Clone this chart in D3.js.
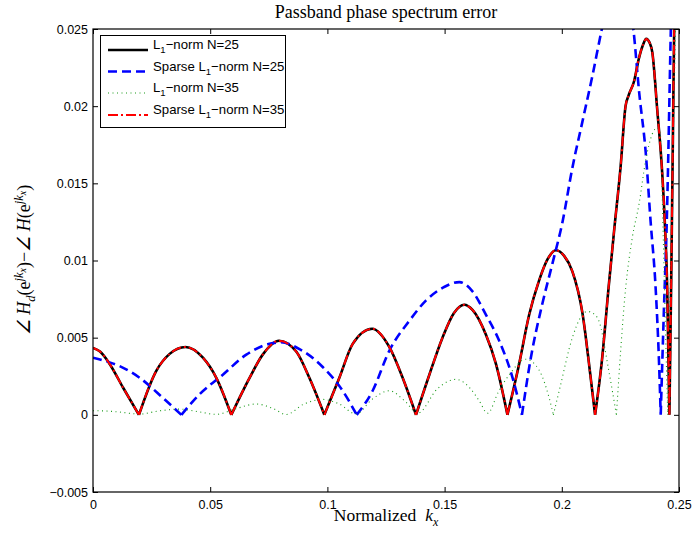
<!DOCTYPE html>
<html>
<head>
<meta charset="utf-8">
<script src="https://cdn.jsdelivr.net/npm/d3@7/dist/d3.min.js"></script>
<style>
  html, body { margin: 0; padding: 0; background: #fff; }
  svg { display: block; }
</style>
</head>
<body>
<svg id="chart" width="694" height="535"></svg>
<script>
// Axis ticks and labels
const xTicks = [0, 0.05, 0.1, 0.15, 0.2, 0.25];
const xTickLabels = ["0", "0.05", "0.1", "0.15", "0.2", "0.25"];
const yTicks = [-0.005, 0, 0.005, 0.01, 0.015, 0.02, 0.025];
const yTickLabels = ["\u22120.005", "0", "0.005", "0.01", "0.015", "0.02", "0.025"];

// L1-norm N=25 (the sparse N=35 design gives the same error curve)
const kL1N25 = [0, 0.003, 0.0071, 0.0128, 0.0196,
  0.027, 0.0327, 0.0395, 0.0469, 0.0526, 0.059,
  0.0668, 0.0724, 0.0793, 0.0867, 0.0923, 0.0987,
  0.1051, 0.1108, 0.1191, 0.1264, 0.1321, 0.1378,
  0.1435, 0.1491, 0.154, 0.1584, 0.1619, 0.1676, 0.1719, 0.1768,
  0.1818, 0.1861, 0.1903, 0.194, 0.1975, 0.201, 0.2045, 0.2088, 0.2124, 0.2142,
  0.2171, 0.22, 0.2223, 0.2251, 0.2272, 0.2285, 0.2308, 0.2329, 0.2347, 0.236, 0.2375, 0.2386, 0.2407, 0.2429, 0.244, 0.245, 0.2459,
  0.2467, 0.2474, 0.2481, 0.249];
const vL1N25 = [0.00434, 0.0041, 0.0033, 0.00177, 0,
  0.00285, 0.00395, 0.0044, 0.0037, 0.0024, 0,
  0.0024, 0.0039, 0.0048, 0.0041, 0.0024, 0,
  0.0024, 0.0046, 0.00558, 0.0044, 0.0024, 0,
  0.0026, 0.005, 0.0066, 0.00713, 0.0068, 0.0052, 0.0033, 0,
  0.0033, 0.0065, 0.0087, 0.0101, 0.01066, 0.0103, 0.0093, 0.0066, 0.0023, 0,
  0.0035, 0.0083, 0.0119, 0.0161, 0.02, 0.0207, 0.0216, 0.0231, 0.024, 0.02436, 0.0241, 0.0235, 0.0198, 0.0155, 0.0123, 0.008, 0,
  0.009, 0.018, 0.027, 0.034];

// Sparse L1-norm N=25
const kSpN25 = [0, 0.0071, 0.0135, 0.0199, 0.0298, 0.0377,
  0.0455, 0.0554, 0.0654, 0.0753, 0.08, 0.0881, 0.098, 0.1065, 0.1125,
  0.1193, 0.1264, 0.135, 0.142, 0.15, 0.1563, 0.1619, 0.1676, 0.1733, 0.179, 0.183,
  0.1868, 0.1917, 0.196, 0.2003, 0.2045, 0.2088, 0.2131, 0.2171, 0.221, 0.2248, 0.2285, 0.2306, 0.233, 0.2358, 0.2379, 0.24, 0.2415, 0.2422,
  0.2435, 0.2448, 0.2465, 0.2475];
const vSpN25 = [0.0037, 0.0034, 0.003, 0.0024, 0.0011, 0,
  0.00134, 0.0026, 0.0039, 0.0046, 0.0047, 0.00426, 0.0031, 0.00156, 0,
  0.00156, 0.00415, 0.0061, 0.0074, 0.0083, 0.0086, 0.008, 0.0065, 0.0048, 0.0024, 0,
  0.0037, 0.0072, 0.0098, 0.0125, 0.016, 0.019, 0.022, 0.025, 0.0275, 0.0286, 0.0272, 0.0249, 0.0209, 0.017, 0.0125, 0.0083, 0.0033, 0,
  0.0065, 0.0126, 0.0249, 0.032];

// L1-norm N=35
const kL1N35 = [0, 0.0029, 0.01, 0.0199, 0.028, 0.0369, 0.045, 0.0526, 0.061, 0.0696, 0.077, 0.0824,
  0.09, 0.098, 0.1051, 0.1122, 0.119, 0.1264, 0.133, 0.1385, 0.147, 0.1548, 0.161, 0.1648, 0.1683,
  0.173, 0.1776, 0.1847, 0.1903, 0.1946, 0.1964,
  0.1989, 0.2045, 0.208, 0.2109, 0.2131, 0.2158, 0.22, 0.2233,
  0.2273, 0.2301, 0.233, 0.2358, 0.2386, 0.2407, 0.242, 0.2432, 0.2445, 0.2452,
  0.2465, 0.2478, 0.249];
const vL1N35 = [0.00026, 0.00026, 0.0002, 0.00005, 0.00025, 0.00037, 0.0002, 0.00003, 0.0004, 0.0007, 0.0004, 0.00002,
  0.0007, 0.001, 0.0007, 0.00005, 0.001, 0.00156, 0.0009, 0.0001, 0.0017, 0.0023, 0.0017, 0.0009, 0.0001,
  0.0015, 0.0026, 0.0036, 0.0029, 0.0011, 0,
  0.00156, 0.005, 0.0063, 0.0067, 0.0066, 0.0061, 0.0029, 0,
  0.0083, 0.0115, 0.0137, 0.0165, 0.0182, 0.0186, 0.0182, 0.012, 0.004, 0,
  0.01, 0.02, 0.028];

// Sparse L1-norm N=35
const kSpN35 = kL1N25.slice();
const vSpN35 = vL1N25.slice();

const seriesNames = ["L1-norm N=25", "Sparse L1-norm N=25", "L1-norm N=35", "Sparse L1-norm N=35"];

const W = 694, H = 535;
const margin = { left: 93, top: 29, right: 15, bottom: 43 };
const plotW = W - margin.left - margin.right;
const plotH = H - margin.top - margin.bottom;

const svg = d3.select("#chart");
const x = d3.scaleLinear().domain([0, 0.25]).range([0, plotW]);
const y = d3.scaleLinear().domain([-0.005, 0.025]).range([plotH, 0]);

const g = svg.append("g").attr("transform", `translate(${margin.left},${margin.top})`);

g.append("defs").append("clipPath").attr("id", "plotClip")
  .append("rect").attr("x", 0).attr("y", 0).attr("width", plotW).attr("height", plotH);

// Split at zero touches so each lobe keeps a sharp cusp
function lobes(ks, vs) {
  const pts = ks.map((k, i) => [k, vs[i]]);
  const out = [];
  let cur = [];
  pts.forEach((p, i) => {
    cur.push(p);
    if (p[1] === 0 && i > 0 && i < pts.length - 1) {
      out.push(cur);
      cur = [p];
    }
  });
  if (cur.length > 1) out.push(cur);
  return out;
}
const line = d3.line().x(d => x(d[0])).y(d => y(d[1])).curve(d3.curveMonotoneX);
const pathFor = (ks, vs) => lobes(ks, vs).map(s => line(s)).join("");

const styles = [
  { color: "#000000", width: 2.6, dash: null },
  { color: "#0000ff", width: 2.6, dash: "9,5" },
  { color: "#1a9a1a", width: 1.1, dash: "1,3.5" },
  { color: "#ff0000", width: 2.0, dash: "10,3,2,3" }
];
const data = [[kL1N25, vL1N25], [kSpN25, vSpN25], [kL1N35, vL1N35], [kSpN35, vSpN35]];

const plot = g.append("g").attr("clip-path", "url(#plotClip)");
data.forEach((d, i) => {
  plot.append("path")
    .attr("d", pathFor(d[0], d[1]))
    .attr("fill", "none")
    .attr("stroke", styles[i].color)
    .attr("stroke-width", styles[i].width)
    .attr("stroke-dasharray", styles[i].dash)
    .attr("stroke-linejoin", "round");
});

// Axes: ticks point inward on all four sides
const tickFont = "'Liberation Sans', Arial, Helvetica, sans-serif";
const axL = g.append("g").call(d3.axisLeft(y).tickValues(yTicks)
  .tickFormat((d, i) => yTickLabels[i]).tickSizeInner(-5).tickSizeOuter(0).tickPadding(5));
const axB = g.append("g").attr("transform", `translate(0,${plotH})`).call(d3.axisBottom(x).tickValues(xTicks)
  .tickFormat((d, i) => xTickLabels[i]).tickSizeInner(-5).tickSizeOuter(0).tickPadding(8));
const axR = g.append("g").attr("transform", `translate(${plotW},0)`).call(d3.axisRight(y).tickValues(yTicks)
  .tickFormat("").tickSizeInner(-5).tickSizeOuter(0));
const axT = g.append("g").call(d3.axisTop(x).tickValues(xTicks)
  .tickFormat("").tickSizeInner(-5).tickSizeOuter(0));
[axL, axB, axR, axT].forEach(a => {
  a.select(".domain").remove();
  a.selectAll("line").attr("stroke", "#000");
  a.selectAll("text").attr("fill", "#000").style("font-family", tickFont).style("font-size", "12.5px");
});

g.append("rect").attr("x", 0).attr("y", 0).attr("width", plotW).attr("height", plotH)
  .attr("fill", "none").attr("stroke", "#000").attr("stroke-width", 1.2);

// Title
const serif = "'Liberation Serif', 'Times New Roman', Times, serif";
svg.append("text").attr("x", 386).attr("y", 18).attr("text-anchor", "middle")
  .style("font-family", serif).style("font-size", "18px").text("Passband phase spectrum error");

// X label
const xl = svg.append("text").attr("x", 386).attr("y", 521).attr("text-anchor", "middle")
  .style("font-family", serif).style("font-size", "17.5px");
xl.append("tspan").text("Normalized\u00a0\u00a0");
xl.append("tspan").style("font-style", "italic").text("k");
xl.append("tspan").style("font-style", "italic").style("font-size", "12px").attr("dy", "0.45em").text("x");

// Y label
const yl = svg.append("text").attr("transform", "translate(30,260) rotate(-90)").attr("text-anchor", "middle")
  .style("font-family", serif).style("font-size", "18px").style("font-style", "italic");
const part = (txt, opts) => {
  const t = yl.append("tspan").text(txt);
  if (opts && opts.dy) t.attr("dy", opts.dy);
  if (opts && opts.size) t.style("font-size", opts.size);
  if (opts && opts.normal) t.style("font-style", "normal");
  return t;
};
part("\u2220 H");
part("d", { dy: "5", size: "12.5px" });
part("(e", { dy: "-5", normal: true });
part("jk", { dy: "-7", size: "12.5px" });
part("x", { dy: "3", size: "10px" });
part(")\u2212", { dy: "4", normal: true });
part("\u2220 H");
part("(e", { normal: true });
part("jk", { dy: "-7", size: "12.5px" });
part("x", { dy: "3", size: "10px" });
part(")", { dy: "4", normal: true });

// Legend
const lg = svg.append("g");
lg.append("rect").attr("x", 100.5).attr("y", 35.5).attr("width", 185).attr("height", 92)
  .attr("fill", "#fff").attr("stroke", "#000").attr("stroke-width", 1);
const rowY = [50, 71.5, 93, 115];
seriesNames.forEach((name, i) => {
  lg.append("line").attr("x1", 108).attr("x2", 148).attr("y1", rowY[i]).attr("y2", rowY[i])
    .attr("stroke", styles[i].color).attr("stroke-width", styles[i].width)
    .attr("stroke-dasharray", styles[i].dash);
  const t = lg.append("text").attr("x", 153).attr("y", rowY[i] - 1)
    .style("font-family", tickFont).style("font-size", "13.2px").attr("fill", "#000");
  const parts = name.split("L1");
  t.append("tspan").text(parts[0] + "L");
  t.append("tspan").attr("dy", "4").style("font-size", "9.5px").text("1");
  t.append("tspan").attr("dy", "-4").text(parts[1].replace("-", "\u2212"));
});
</script>
</body>
</html>
